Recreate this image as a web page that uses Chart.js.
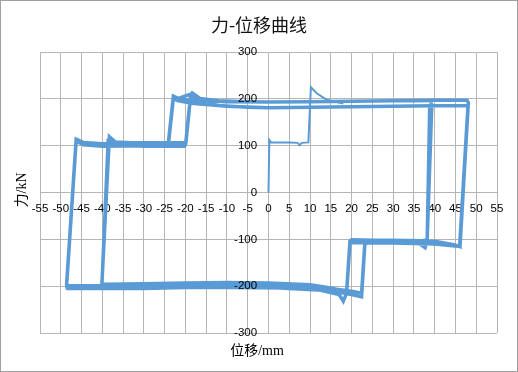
<!DOCTYPE html>
<html>
<head>
<meta charset="utf-8">
<script src="https://cdn.jsdelivr.net/npm/chart.js@4"></script>
<style>
html,body{margin:0;padding:0;background:#fff;}
#wrap{width:518px;height:372px;position:relative;}
</style>
</head>
<body>
<div id="wrap"><canvas id="c" width="518" height="372"></canvas></div>
<script>
// ---- data (displacement in mm, force in kN) ----
const titleText = '力-位移曲线';
const xTitle = '位移/mm';
const yTitle = '力/kN';
const xTickRange = [-55, 55, 5];
const yTickRange = [-300, 300, 100];

const initDisp  = [0, 0.2, 0.6, 5, 7, 7.5, 8, 9.6, 10.2, 11.6, 14, 18];
const initForce = [0, 112, 107, 107, 106, 101, 106, 107, 225, 212, 198, 190];

const loop40aDisp  = [-18.7, -16.5, -12, -5, 0, 10, 20, 30, 39.0, 39.3, 38.2, 37.0, 30, 25, 20.0, 19.6, 18.8, 15, 10, 0, -10, -20, -30, -39.6, -40.1, -38.3, -36.9, -33, -28, -20.2, -19.9, -18.7];
const loop40aForce = [215, 201, 196, 194, 193, 194, 195, 196, 196, 186, -101, -103, -102, -102, -101, -104, -212, -204, -197, -193, -192, -193, -195, -196, -194, 119, 108, 106, 106, 107, 108, 212];

const loop40bDisp  = [-18.7, -16.5, -12, -5, 0, 10, 20, 30, 38.8, 38.2, 37.7, 36, 30, 20, 19.6, 18.8, 18.0, 17, 12, 0, -10, -20, -30, -39.8, -40.1, -38.6, -36.9, -30, -20.2, -19.9, -18.7];
const loop40bForce = [210, 194, 186, 182, 181, 182, 183, 184, 185, -100, -118, -108, -108, -107, -108, -215, -232, -218, -208, -203, -202, -203, -205, -205, -198, 110, 102, 99, 99, 104, 210];

const loop48aDisp  = [-21.7, -18, -10, 0, 10, 20, 30, 40, 47.8, 48.1, 46.1, 44.9, 40, 30, 23.8, 23.2, 22.4, 20, 15, 5, -10, -25, -40, -48.4, -48.6, -46.3, -44.6, -40, -30, -24.4, -24.1, -22.9, -21.7];
const loop48aForce = [201, 197, 194, 193, 194, 195, 196, 197, 197, 192, -116, -112, -104, -102, -102, -106, -215, -211, -205, -199, -197, -197, -199, -199, -196, 114, 107, 104, 105, 105, 107, 206, 201];

const loop48bDisp  = [-21.7, -18, -10, 0, 10, 20, 30, 40, 47.8, 48.0, 46.0, 44.9, 40, 30, 23.8, 23.2, 22.4, 20, 15, 5, -10, -25, -40, -48.4, -48.6, -46.3, -44.6, -40, -30, -24.4, -24.1, -22.9, -21.7];
const loop48bForce = [196, 190, 184, 181, 182, 183, 184, 185, 186, 183, -115, -114, -110, -108, -108, -110, -223, -218, -210, -204, -203, -203, -205, -205, -200, 110, 102, 99, 100, 100, 103, 200, 196];

// ---- build point lists ----
function pts(xs, ys) { return xs.map((x, i) => ({x: x, y: ys[i]})); }
const cyclePoints = [].concat(
  pts(loop40aDisp, loop40aForce),
  pts(loop40bDisp, loop40bForce),
  pts(loop48aDisp, loop48aForce),
  pts(loop48bDisp, loop48bForce)
);

const LINE = '#5B9BD5';
const GRID = '#b5b5b5';
const TICKFONT = {family: '"Liberation Sans", Arial, sans-serif', size: 11.5};

const decor = {
  id: 'decor',
  beforeDraw(chart) {
    const ctx = chart.ctx;
    ctx.save();
    ctx.fillStyle = '#fff';
    ctx.fillRect(0, 0, chart.width, chart.height);
    ctx.restore();
  },
  afterDraw(chart) {
    const ctx = chart.ctx;
    ctx.save();
    ctx.textAlign = 'center';
    ctx.textBaseline = 'middle';
    ctx.fillStyle = '#111';
    ctx.font = '18px "Noto Sans CJK SC", sans-serif';
    ctx.fillText(titleText, 259, 25.5);
    ctx.fillStyle = '#000';
    ctx.font = '14px "Liberation Serif", "Noto Sans CJK SC", serif';
    ctx.fillText(xTitle, 257, 351);
    ctx.translate(22, 190);
    ctx.rotate(-Math.PI / 2);
    ctx.fillText(yTitle, 0, 0);
    ctx.restore();
    ctx.save();
    ctx.strokeStyle = '#a0a0a0';
    ctx.lineWidth = 1;
    ctx.strokeRect(0.5, 0.5, chart.width - 1, chart.height - 1);
    ctx.restore();
  }
};

new Chart(document.getElementById('c'), {
  type: 'scatter',
  data: {
    datasets: [
      {
        data: pts(initDisp, initForce),
        showLine: true, borderColor: LINE, borderWidth: 2,
        pointRadius: 0, fill: false, tension: 0, yAxisID: 'y'
      },
      {
        data: cyclePoints,
        showLine: true, borderColor: LINE, borderWidth: 3.5,
        pointRadius: 0, fill: false, tension: 0, yAxisID: 'y'
      }
    ]
  },
  options: {
    responsive: false,
    animation: false,
    devicePixelRatio: 1,
    layout: {padding: {left: 40, right: 21, top: 52, bottom: 39}},
    plugins: {
      legend: {display: false},
      tooltip: {enabled: false},
      title: {display: false}
    },
    scales: {
      x: {
        type: 'linear',
        min: xTickRange[0], max: xTickRange[1],
        position: {y: 0},
        border: {display: false},
        grid: {color: GRID, drawTicks: false, lineWidth: 1},
        ticks: {stepSize: xTickRange[2], autoSkip: false, maxRotation: 0, padding: 9, color: '#000', font: TICKFONT}
      },
      y: {
        type: 'linear',
        min: yTickRange[0], max: yTickRange[1],
        position: {x: -2.75},
        border: {display: false},
        grid: {color: GRID, drawTicks: false, lineWidth: 1},
        ticks: {stepSize: yTickRange[2], display: false}
      },
      yLabels: {
        type: 'linear',
        axis: 'y',
        min: yTickRange[0], max: yTickRange[1],
        position: {x: -2.75},
        border: {display: false, z: 1},
        grid: {display: false, drawTicks: false, z: 1},
        ticks: {stepSize: yTickRange[2], padding: 0, color: '#000', font: TICKFONT, z: 1}
      }
    }
  },
  plugins: [decor]
});
</script>
</body>
</html>
